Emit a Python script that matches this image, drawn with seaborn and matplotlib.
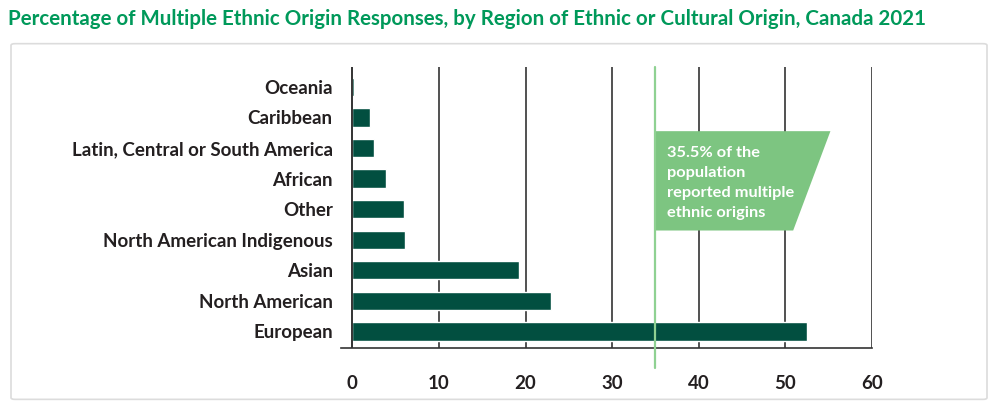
import numpy as np
import pandas as pd
import seaborn as sns
import matplotlib.pyplot as plt
from matplotlib.patches import FancyBboxPatch, Polygon

regions = ['Oceania', 'Caribbean', 'Latin, Central or South America', 'African',
           'Other', 'North American Indigenous', 'Asian', 'North American', 'European']
pct = [0.2, 2.1, 2.5, 3.9, 6.0, 6.1, 19.3, 22.9, 52.5]
xticks = [0, 10, 20, 30, 40, 50, 60]
overall = 35
note = '35.5% of the\npopulation\nreported multiple\nethnic origins'
title = 'Percentage of Multiple Ethnic Origin Responses, by Region of Ethnic or Cultural Origin, Canada 2021'

bar_col = '#024f40'
note_col = '#7dc581'
title_col = '#00995a'
ink = '#231f20'

sns.set_style('white')
plt.rcParams['font.family'] = ['Lato', 'DejaVu Sans']

df = pd.DataFrame({'region': regions, 'pct': pct})

fig = plt.figure(figsize=(10, 4.16), dpi=100)
ax = fig.add_axes([0.341, 0.163, 0.531, 0.676])

# light frame around the chart
frame = FancyBboxPatch((0.011, 0.04), 0.976, 0.855, boxstyle='round,pad=0,rounding_size=0.004',
                       transform=fig.transFigure, fill=False, edgecolor='#dcdcdc', lw=1.2)
fig.patches.append(frame)

fig.text(0.008, 0.955, title, color=title_col, fontsize=14.8, fontweight='bold', va='center')

for x in xticks[1:]:
    ax.axvline(x, color='#333333', lw=1.2, zorder=0)

sns.barplot(data=df, x='pct', y='region', orient='h', color=bar_col, width=0.6,
            saturation=1, ax=ax, zorder=2)

ax.axvline(0, color='#333333', lw=1.4, zorder=3)
ax.axvline(overall, ymin=-0.07, color='#8fd192', lw=1.6, zorder=4, clip_on=False)

poly = Polygon([(overall, 1.45), (55.2, 1.45), (50.9, 4.7), (overall, 4.7)],
               closed=True, facecolor=note_col, edgecolor='none', zorder=3)
ax.add_patch(poly)
ax.text(overall + 1.3, 1.93, note, color='white', fontsize=11.8, fontweight='bold',
        va='top', ha='left', linespacing=1.55, zorder=5)

ax.set_xlim(-1.3, 60)
ax.set_ylim(8.55, -0.65)
ax.set_xticks(xticks)
ax.set_xlabel('')
ax.set_ylabel('')
for s in ['top', 'right', 'left']:
    ax.spines[s].set_visible(False)
ax.spines['bottom'].set_color('#333333')
ax.spines['bottom'].set_linewidth(1.2)
ax.tick_params(axis='x', direction='out', length=7, width=1.2, color='#333333',
               pad=12, labelsize=13.5, labelcolor=ink)
ax.tick_params(axis='y', length=0, pad=6, labelsize=13.5, labelcolor=ink)
for lab in ax.get_xticklabels() + ax.get_yticklabels():
    lab.set_fontweight('bold')

fig.savefig('out.png', dpi=100)
